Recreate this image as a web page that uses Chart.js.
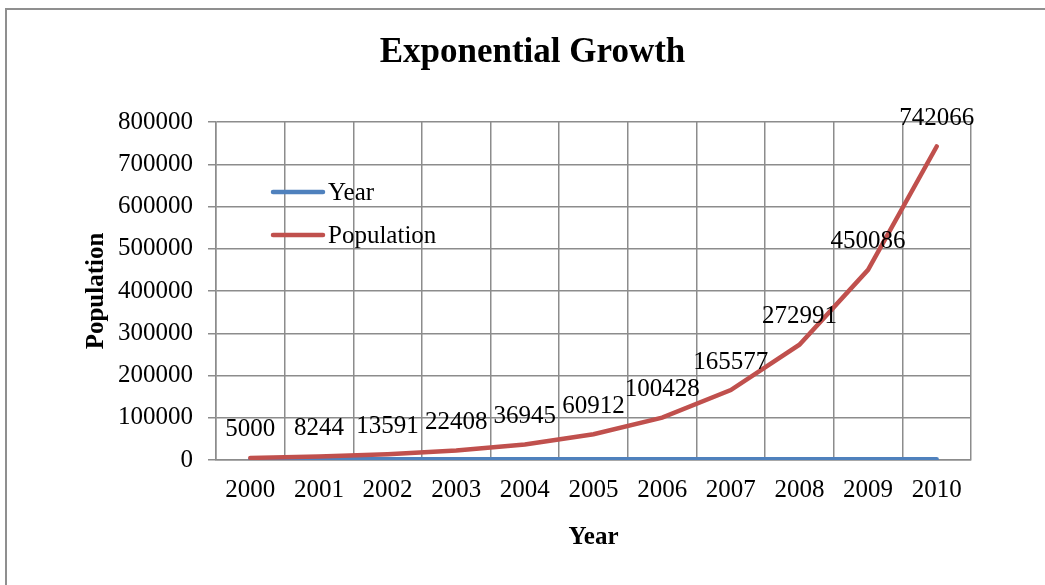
<!DOCTYPE html>
<html>
<head>
<meta charset="utf-8">
<script src="https://cdn.jsdelivr.net/npm/chart.js@4/dist/chart.umd.min.js"></script>
<style>
  html, body { margin: 0; padding: 0; background: #fff; }
  #wrap { position: relative; width: 1045px; height: 585px; overflow: hidden; }
  #frame {
    position: absolute; left: 5px; top: 8px; width: 1100px; height: 700px;
    border-left: 2px solid #8f8f8f; border-top: 2px solid #8f8f8f;
  }
  canvas { position: absolute; left: 0; top: 0; }
</style>
</head>
<body>
<div id="wrap">
  <div id="frame"></div>
  <canvas id="chart" width="1045" height="585"></canvas>
</div>
<script>
const years = ["2000", "2001", "2002", "2003", "2004", "2005", "2006", "2007", "2008", "2009", "2010"];
const yearValues = [2000, 2001, 2002, 2003, 2004, 2005, 2006, 2007, 2008, 2009, 2010];
const populationValues = [5000, 8244, 13591, 22408, 36945, 60912, 100428, 165577, 272991, 450086, 742066];

const serif = "'Liberation Serif', 'Times New Roman', serif";
const gridColor = "#8c8c8c";

// value labels above the Population points
const pointLabels = {
  id: "pointLabels",
  afterDatasetsDraw(chart) {
    const ctx = chart.ctx;
    const meta = chart.getDatasetMeta(1);
    ctx.save();
    ctx.font = "25px " + serif;
    ctx.fillStyle = "#000";
    ctx.textAlign = "center";
    ctx.textBaseline = "middle";
    meta.data.forEach((pt, i) => {
      ctx.fillText(String(populationValues[i]), pt.x, pt.y - 28);
    });
    ctx.restore();
  },
};

// legend sits inside the plot, top left
const innerLegend = {
  id: "innerLegend",
  afterDraw(chart) {
    const ctx = chart.ctx;
    const area = chart.chartArea;
    const x0 = area.left + 57;
    let y = area.top + 70;
    ctx.save();
    ctx.font = "25px " + serif;
    ctx.textBaseline = "middle";
    ctx.textAlign = "left";
    chart.data.datasets.forEach((ds) => {
      ctx.strokeStyle = ds.borderColor;
      ctx.lineWidth = 4.5;
      ctx.lineCap = "round";
      ctx.beginPath();
      ctx.moveTo(x0, y);
      ctx.lineTo(x0 + 50, y);
      ctx.stroke();
      ctx.fillStyle = "#000";
      ctx.fillText(ds.label, x0 + 55, y + 1);
      y += 43;
    });
    ctx.restore();
  },
};

new Chart(document.getElementById("chart"), {
  type: "line",
  data: {
    labels: years,
    datasets: [
      {
        label: "Year",
        data: yearValues,
        borderColor: "#4f81bd",
        borderWidth: 4.5,
        borderCapStyle: "round",
        pointRadius: 0,
        tension: 0,
        order: 1,
      },
      {
        label: "Population",
        data: populationValues,
        borderColor: "#c0504d",
        borderWidth: 4.5,
        borderCapStyle: "round",
        pointRadius: 0,
        tension: 0,
        order: 0,
      },
    ],
  },
  options: {
    responsive: false,
    animation: false,
    devicePixelRatio: 1,
    layout: { padding: { left: 20, right: 0, top: 0, bottom: 0 } },
    plugins: {
      legend: { display: false },
      tooltip: { enabled: false },
      title: {
        display: true,
        text: "Exponential Growth",
        color: "#000",
        font: { family: serif, size: 35, weight: "bold" },
        padding: { top: 32, bottom: 48 },
      },
    },
    scales: {
      x: {
        offset: true,
        grid: { offset: true, color: gridColor, lineWidth: 1.5, drawTicks: false },
        border: { color: gridColor, width: 1.5 },
        ticks: { color: "#000", font: { family: serif, size: 25 }, padding: 15, maxRotation: 0 },
        title: {
          display: true,
          text: "Year",
          color: "#000",
          font: { family: serif, size: 25, weight: "bold" },
          padding: { top: 0, bottom: 32 },
        },
        afterFit(scale) { scale.height = 125; },
      },
      y: {
        min: 0,
        max: 800000,
        ticks: {
          stepSize: 100000,
          color: "#000",
          font: { family: serif, size: 25 },
          padding: 15,
          callback: (v) => String(v),
        },
        grid: { color: gridColor, lineWidth: 1.5, tickLength: 8 },
        border: { color: gridColor, width: 1.5 },
        title: {
          display: true,
          text: "Population",
          color: "#000",
          font: { family: serif, size: 25, weight: "bold" },
          padding: { top: 62, bottom: 0 },
        },
        afterFit(scale) { scale.width = 196; },
      },
      // empty space on the right of the plot
      spacer: {
        position: "right",
        display: true,
        grid: { display: false },
        border: { display: false },
        ticks: { display: false },
        afterFit(scale) { scale.width = 74; },
      },
    },
  },
  plugins: [pointLabels, innerLegend],
});
</script>
</body>
</html>
